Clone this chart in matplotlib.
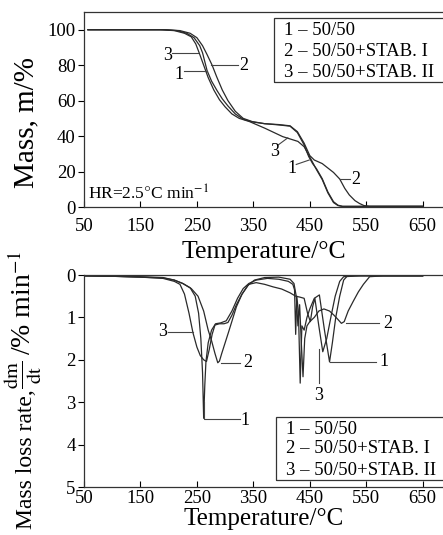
import matplotlib
matplotlib.use("Agg")
import matplotlib.pyplot as plt
from matplotlib.patches import Rectangle

plt.rcParams['font.family'] = ['Liberation Serif', 'DejaVu Serif']
plt.rcParams['mathtext.fontset'] = 'stix'

# TGA, mass %
t1 = [57, 190, 215, 232, 245, 255, 260, 268, 276, 286, 295, 305, 318, 332, 348, 370, 395, 415, 428, 440, 448, 455, 462, 472, 482, 492, 500, 508, 650]
m1 = [100, 100, 99.5, 98, 95.5, 91, 87, 77, 71, 65.5, 61, 57, 52.5, 49.5, 48, 47, 46.3, 45.6, 42, 35, 28.5, 24.5, 21.5, 16, 8.5, 3, 1, 0.4, 0.4]
t2 = [57, 195, 220, 238, 250, 260, 268, 277, 285, 295, 305, 318, 332, 348, 370, 395, 415, 428, 440, 450, 458, 465, 472, 482, 492, 503, 512, 520, 530, 538, 546, 556, 650]
m2 = [100, 100, 99.5, 98, 95.5, 91, 86, 80, 73.5, 66, 60, 54, 50, 48.2, 47, 46.5, 45.8, 42.5, 36, 29, 26.5, 25.5, 24.5, 22, 19.5, 15.8, 10.5, 6.8, 3.6, 2, 0.8, 0.4, 0.4]
t3 = [57, 185, 210, 228, 240, 248, 254, 262, 270, 280, 290, 300, 312, 325, 343, 370, 402, 411, 429, 440, 452, 462, 472, 482, 492, 500, 508, 650]
m3 = [100, 100, 99.5, 98, 96, 92, 87, 80, 73, 66, 60.5, 56.5, 52.5, 50, 48.2, 44.5, 39.7, 38.8, 37, 34, 27, 21, 15.5, 8, 2.5, 0.8, 0.3, 0.3]

# DTG, mass loss rate
d1t = [52, 100, 150, 190, 210, 225, 238, 247, 253, 257, 260, 262, 264, 266, 270, 276, 283, 292, 302, 312, 322, 332, 342, 355, 375, 395, 412, 420, 423, 425, 427, 430, 433, 436, 440, 445, 450, 458, 467, 476, 485, 490, 496, 503, 510, 516, 530, 650]
d1r = [0.02, 0.03, 0.04, 0.06, 0.12, 0.2, 0.3, 0.5, 0.9, 1.5, 2.3, 3.38, 2.6, 2.05, 1.6, 1.3, 1.15, 1.13, 1.08, 0.85, 0.55, 0.32, 0.2, 0.12, 0.08, 0.1, 0.15, 0.22, 0.35, 1.4, 0.5, 0.9, 2.55, 1.2, 1.3, 1.0, 0.8, 0.55, 0.47, 1.3, 2.05, 1.6, 1.0, 0.5, 0.12, 0.03, 0.02, 0.02]
d2t = [52, 100, 150, 190, 210, 225, 240, 252, 262, 270, 276, 282, 287, 290, 294, 300, 306, 313, 320, 330, 340, 352, 370, 395, 415, 422, 426, 429, 432, 435, 438, 441, 445, 450, 458, 466, 475, 485, 493, 500, 506, 511, 518, 527, 536, 545, 556, 580, 650]
d2r = [0.02, 0.03, 0.05, 0.07, 0.12, 0.2, 0.32, 0.5, 0.85, 1.3, 1.55, 1.85, 2.07, 2.03, 1.85, 1.6, 1.35, 1.05, 0.75, 0.45, 0.25, 0.12, 0.06, 0.05, 0.1, 0.2, 0.5, 1.2, 0.7, 1.6, 2.4, 1.5, 1.2, 1.1, 1.0, 0.85, 0.8, 0.85, 0.95, 1.05, 1.14, 1.1, 0.85, 0.62, 0.4, 0.22, 0.04, 0.02, 0.02]
d3t = [52, 100, 150, 190, 210, 220, 228, 236, 243, 250, 256, 262, 267, 272, 277, 282, 290, 298, 305, 312, 320, 330, 342, 355, 370, 385, 400, 415, 425, 432, 440, 446, 451, 455, 459, 466, 473, 480, 488, 495, 503, 510, 540, 650]
d3r = [0.02, 0.03, 0.05, 0.08, 0.15, 0.22, 0.45, 0.9, 1.36, 1.7, 1.9, 2.0, 2.04, 1.75, 1.4, 1.18, 1.15, 1.15, 1.12, 0.95, 0.7, 0.45, 0.22, 0.18, 0.22, 0.28, 0.33, 0.42, 0.5, 0.52, 0.55, 0.9, 1.1, 0.75, 0.55, 1.2, 1.81, 1.5, 0.95, 0.5, 0.15, 0.04, 0.02, 0.02]

xticks = [50, 150, 250, 350, 450, 550, 650]
legend_lines = ['1 \u2013 50/50', '2 \u2013 50/50+STAB. I', '3 \u2013 50/50+STAB. II']

W, H = 443, 535
fig = plt.figure(figsize=(W / 100, H / 100), dpi=100)
ax1 = fig.add_axes([84 / W, 1 - 207 / H, (W - 84) / W, 195 / H])
ax2 = fig.add_axes([84 / W, 1 - 487 / H, (W - 84) / W, 212 / H])

lc = '#2a2a2a'
lw = 0.9
for t, m in [(t1, m1), (t2, m2), (t3, m3)]:
    ax1.plot(t, m, color=lc, lw=lw)
for t, r in [(d1t, d1r), (d2t, d2r), (d3t, d3r)]:
    ax2.plot(t, r, color=lc, lw=lw)

for ax in (ax1, ax2):
    ax.set_xlim(50, 686)
    ax.set_xticks(xticks)
    ax.spines['right'].set_visible(False)
    for s in ax.spines.values():
        s.set_linewidth(0.9)
        s.set_color('#333333')
    ax.tick_params(axis='x', direction='in', length=4, width=0.8, labelsize=13.5)
    ax.tick_params(axis='y', direction='out', length=4, width=0.8, labelsize=13.5, pad=2)

ax1.set_xlabel('Temperature/\u00b0C', fontsize=18.5)
ax2.set_xlabel('Temperature/\u00b0C', fontsize=18)
ax1.tick_params(axis='x', pad=8)
ax2.tick_params(axis='x', pad=2)
ax1.xaxis.set_label_coords(0.5, -0.175)
ax2.xaxis.set_label_coords(0.5, -0.1)

ax1.set_ylim(0, 110)
ax1.set_yticks([0, 20, 40, 60, 80, 100])
ax2.set_ylim(5, 0)
ax2.set_yticks([0, 1, 2, 3, 4, 5])

# y labels
fig.text(26 / W, 1 - 122 / H, 'Mass, m/%', fontsize=21, rotation=90, ha='center', va='center')
fig.text(26 / W, 1 - 529 / H, 'Mass loss rate,', fontsize=17, rotation=90, ha='center', va='bottom')
fig.text(23 / W, 1 - 389 / H, r'$\frac{\mathrm{dm}}{\mathrm{dt}}$', fontsize=21, rotation=90, ha='center', va='bottom')
fig.text(23 / W, 1 - 355 / H, r'/% min$^{-1}$', fontsize=20, rotation=90, ha='center', va='bottom')

ax1.text(57, 2, r'HR=2.5$\degree$C min$^{-1}$', fontsize=12.5, va='bottom', ha='left')

gl = '#444444'
def lead(ax, xs, ys, label, lx, ly, ha='center'):
    ax.plot(xs, ys, color=gl, lw=0.8)
    ax.text(lx, ly, label, fontsize=13, ha=ha, va='center')

# top panel curve labels
lead(ax1, [206, 252], [86.8, 86.8], '3', 199, 85.5)
lead(ax1, [275, 322], [80, 80], '2', 333, 80)
lead(ax1, [227, 268], [76.5, 76.5], '1', 218, 75)
lead(ax1, [394, 411], [35, 39], '3', 387, 31.5)
lead(ax1, [426, 449], [24, 26.5], '1', 418, 21.5)
lead(ax1, [503, 522], [15.8, 15.8], '2', 531, 15.5)

# bottom panel curve labels
lead(ax2, [199, 243], [1.34, 1.34], '3', 189, 1.34)
lead(ax2, [263, 263, 326], [3.0, 3.4, 3.4], '1', 336, 3.42)
lead(ax2, [293, 326], [2.07, 2.07], '2', 340, 2.07)
lead(ax2, [466, 466], [1.75, 2.55], '3', 466, 2.85)
lead(ax2, [486, 568], [2.05, 2.05], '1', 582, 2.05)
lead(ax2, [515, 572], [1.14, 1.14], '2', 588, 1.14)

# legend boxes
def legend_box(ax, x0, y0, w, h, ys):
    ax.add_patch(Rectangle((x0, y0), w, h, transform=ax.transAxes, fill=False,
                           lw=0.9, ec='#333333', clip_on=False))
    for y, s in zip(ys, legend_lines):
        ax.text(x0 + 0.028, y, s, transform=ax.transAxes, fontsize=13.5, va='center', ha='left')

legend_box(ax1, 0.53, 0.641, 0.5, 0.328, [0.905, 0.80, 0.69])
legend_box(ax2, 0.536, 0.033, 0.5, 0.297, [0.273, 0.18, 0.078])

fig.savefig('out.png', dpi=100)
